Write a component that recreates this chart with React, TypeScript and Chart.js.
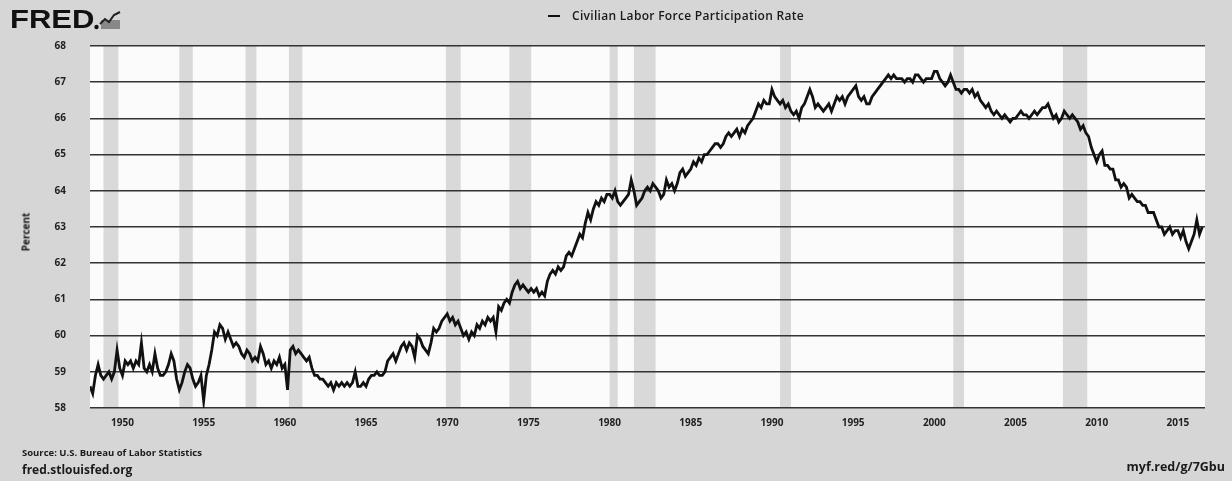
import React, { useEffect, useRef } from "react";
import { Chart, registerables } from "chart.js";

Chart.register(...registerables);

const SERIES_LABEL = "Civilian Labor Force Participation Rate";
const FIRST_YEAR = 1948;
const POINTS_PER_YEAR = 6;

// Civilian labor force participation rate (%), six readings per year, 1948 onward
const RATE: number[] = [
  58.6, 58.4, 58.9, 59.2, 58.9, 58.8, // 1948
  58.9, 59.0, 58.8, 59.0, 59.6, 59.1, // 1949
  58.9, 59.3, 59.2, 59.3, 59.1, 59.3, // 1950
  59.2, 59.8, 59.1, 59.0, 59.2, 59.0, // 1951
  59.5, 59.1, 58.9, 58.9, 59.0, 59.2, // 1952
  59.5, 59.3, 58.8, 58.5, 58.7, 59.0, // 1953
  59.2, 59.1, 58.8, 58.6, 58.7, 58.9, // 1954
  58.2, 58.9, 59.2, 59.6, 60.1, 60.0, // 1955
  60.3, 60.2, 59.9, 60.1, 59.9, 59.7, // 1956
  59.8, 59.7, 59.5, 59.4, 59.6, 59.5, // 1957
  59.3, 59.4, 59.3, 59.7, 59.5, 59.2, // 1958
  59.3, 59.1, 59.3, 59.2, 59.4, 59.1, // 1959
  59.2, 58.5, 59.6, 59.7, 59.5, 59.6, // 1960
  59.5, 59.4, 59.3, 59.4, 59.1, 58.9, // 1961
  58.9, 58.8, 58.8, 58.7, 58.6, 58.7, // 1962
  58.5, 58.7, 58.6, 58.7, 58.6, 58.7, // 1963
  58.6, 58.7, 59.0, 58.6, 58.6, 58.7, // 1964
  58.6, 58.8, 58.9, 58.9, 59.0, 58.9, // 1965
  58.9, 59.0, 59.3, 59.4, 59.5, 59.3, // 1966
  59.5, 59.7, 59.8, 59.6, 59.8, 59.7, // 1967
  59.4, 60.0, 59.9, 59.7, 59.6, 59.5, // 1968
  59.8, 60.2, 60.1, 60.2, 60.4, 60.5, // 1969
  60.6, 60.4, 60.5, 60.3, 60.4, 60.2, // 1970
  60.0, 60.1, 59.9, 60.1, 60.0, 60.3, // 1971
  60.2, 60.4, 60.3, 60.5, 60.4, 60.5, // 1972
  60.1, 60.8, 60.7, 60.9, 61.0, 60.9, // 1973
  61.2, 61.4, 61.5, 61.3, 61.4, 61.3, // 1974
  61.2, 61.3, 61.2, 61.3, 61.1, 61.2, // 1975
  61.1, 61.5, 61.7, 61.8, 61.7, 61.9, // 1976
  61.8, 61.9, 62.2, 62.3, 62.2, 62.4, // 1977
  62.6, 62.8, 62.7, 63.1, 63.4, 63.2, // 1978
  63.5, 63.7, 63.6, 63.8, 63.7, 63.9, // 1979
  63.9, 63.8, 64.0, 63.7, 63.6, 63.7, // 1980
  63.8, 63.9, 64.3, 64.0, 63.6, 63.7, // 1981
  63.8, 64.0, 64.1, 64.0, 64.2, 64.1, // 1982
  64.0, 63.8, 63.9, 64.3, 64.1, 64.2, // 1983
  64.0, 64.2, 64.5, 64.6, 64.4, 64.5, // 1984
  64.6, 64.8, 64.7, 64.9, 64.8, 65.0, // 1985
  65.0, 65.1, 65.2, 65.3, 65.3, 65.2, // 1986
  65.3, 65.5, 65.6, 65.5, 65.6, 65.7, // 1987
  65.5, 65.7, 65.6, 65.8, 65.9, 66.0, // 1988
  66.2, 66.4, 66.3, 66.5, 66.4, 66.4, // 1989
  66.8, 66.6, 66.5, 66.4, 66.5, 66.3, // 1990
  66.4, 66.2, 66.1, 66.2, 66.0, 66.3, // 1991
  66.4, 66.6, 66.8, 66.6, 66.3, 66.4, // 1992
  66.3, 66.2, 66.3, 66.4, 66.2, 66.4, // 1993
  66.6, 66.5, 66.6, 66.4, 66.6, 66.7, // 1994
  66.8, 66.9, 66.6, 66.5, 66.6, 66.4, // 1995
  66.4, 66.6, 66.7, 66.8, 66.9, 67.0, // 1996
  67.1, 67.2, 67.1, 67.2, 67.1, 67.1, // 1997
  67.1, 67.0, 67.1, 67.1, 67.0, 67.2, // 1998
  67.2, 67.1, 67.0, 67.1, 67.1, 67.1, // 1999
  67.3, 67.3, 67.1, 67.0, 66.9, 67.0, // 2000
  67.2, 67.0, 66.8, 66.8, 66.7, 66.8, // 2001
  66.8, 66.7, 66.8, 66.6, 66.7, 66.5, // 2002
  66.4, 66.3, 66.4, 66.2, 66.1, 66.2, // 2003
  66.1, 66.0, 66.1, 66.0, 65.9, 66.0, // 2004
  66.0, 66.1, 66.2, 66.1, 66.1, 66.0, // 2005
  66.1, 66.2, 66.1, 66.2, 66.3, 66.3, // 2006
  66.4, 66.2, 66.0, 66.1, 65.9, 66.0, // 2007
  66.2, 66.1, 66.0, 66.1, 66.0, 65.9, // 2008
  65.7, 65.8, 65.6, 65.5, 65.2, 65.0, // 2009
  64.8, 65.0, 65.1, 64.7, 64.7, 64.6, // 2010
  64.6, 64.3, 64.3, 64.1, 64.2, 64.1, // 2011
  63.8, 63.9, 63.8, 63.7, 63.7, 63.6, // 2012
  63.6, 63.4, 63.4, 63.4, 63.2, 63.0, // 2013
  63.0, 62.8, 62.9, 63.0, 62.8, 62.9, // 2014
  62.9, 62.7, 62.9, 62.6, 62.4, 62.6, // 2015
  62.8, 63.2, 62.8, 63.0,             // 2016
];

const Y_TICKS = [58, 59, 60, 61, 62, 63, 64, 65, 66, 67, 68];
const X_TICKS = [1950, 1955, 1960, 1965, 1970, 1975, 1980, 1985, 1990, 1995, 2000, 2005, 2010, 2015];
const X_MIN = 1948;
const X_MAX = 2016.67;

// NBER recession periods (decimal years)
const RECESSION_START = [1948.83, 1953.5, 1957.58, 1960.25, 1969.92, 1973.83, 1980.0, 1981.5, 1990.5, 2001.17, 2007.92];
const RECESSION_END = [1949.75, 1954.33, 1958.25, 1961.08, 1970.83, 1975.17, 1980.5, 1982.83, 1991.17, 2001.83, 2009.42];

const FONT = '"Open Sans", "DejaVu Sans", sans-serif';

const backdrop = {
  id: "backdrop",
  beforeDraw(chart: any) {
    const { ctx, chartArea: a, scales } = chart;
    const x = scales.x;
    ctx.save();
    ctx.fillStyle = "#fbfbfb";
    ctx.fillRect(a.left, a.top, a.right - a.left, a.bottom - a.top);
    ctx.fillStyle = "#d9d9d9";
    RECESSION_START.forEach((s, i) => {
      const x0 = x.getPixelForValue(s);
      const x1 = x.getPixelForValue(RECESSION_END[i]);
      ctx.fillRect(x0, a.top, x1 - x0, a.bottom - a.top);
    });
    ctx.restore();
  },
};

function LineChart() {
  const ref = useRef<HTMLCanvasElement | null>(null);
  useEffect(() => {
    if (!ref.current) return;
    const points = RATE.map((v, i) => ({ x: FIRST_YEAR + i / POINTS_PER_YEAR, y: v }));
    const chart = new Chart(ref.current, {
      type: "line",
      data: {
        datasets: [
          {
            label: SERIES_LABEL,
            data: points,
            borderColor: "#111",
            borderWidth: 2.8,
            pointRadius: 0,
            tension: 0,
            fill: false,
          },
        ],
      },
      options: {
        responsive: false,
        animation: false,
        layout: { padding: { top: 46, right: 27, left: 0, bottom: 0 } },
        plugins: { legend: { display: false }, tooltip: { enabled: false } },
        scales: {
          x: {
            type: "linear",
            min: X_MIN,
            max: X_MAX,
            afterBuildTicks: (s: any) => {
              s.ticks = X_TICKS.map((v) => ({ value: v }));
            },
            afterFit: (s: any) => {
              s.height = 73;
            },
            grid: { display: false, drawTicks: false },
            border: { display: false },
            ticks: {
              padding: 9,
              maxRotation: 0,
              autoSkip: false,
              color: "#222",
              font: { family: FONT, size: 10, weight: "bold" },
              callback: (v: any) => String(v),
            },
          },
          y: {
            min: 58,
            max: 68,
            afterBuildTicks: (s: any) => {
              s.ticks = Y_TICKS.map((v) => ({ value: v }));
            },
            afterFit: (s: any) => {
              s.width = 90;
            },
            grid: { color: "#333", lineWidth: 1.6, drawTicks: false },
            border: { display: false },
            ticks: {
              padding: 24,
              color: "#222",
              font: { family: FONT, size: 10, weight: "bold" },
              callback: (v: any) => String(v),
            },
          },
        },
      },
      plugins: [backdrop],
    });
    return () => chart.destroy();
  }, []);
  return <canvas ref={ref} width={1232} height={481} style={{ position: "absolute", left: 0, top: 0 }} />;
}

const txt = (extra: React.CSSProperties): React.CSSProperties => ({
  position: "absolute",
  fontFamily: FONT,
  color: "#1a1a1a",
  whiteSpace: "nowrap",
  ...extra,
});

export default function App() {
  return (
    <div
      style={{
        position: "fixed",
        left: 0,
        top: 0,
        width: 1232,
        height: 481,
        background: "#d6d6d6",
        overflow: "hidden",
      }}
    >
      <LineChart />
      <div
        style={txt({
          left: 10,
          top: 5,
          fontFamily: '"Liberation Sans", Arial, sans-serif',
          fontWeight: 900,
          fontSize: 25,
          lineHeight: "28px",
          color: "#111",
          transform: "scaleX(1.24)",
          transformOrigin: "left center",
        })}
      >
        FRED
      </div>
      <svg style={{ position: "absolute", left: 94, top: 10 }} width={28} height={20} viewBox="0 0 28 20">
        <circle cx={2.5} cy={17} r={2.2} fill="#111" />
        <rect x={7} y={10} width={19} height={9} fill="#888" />
        <polyline points="6,14 11,9 15,12 20,5 26,2" fill="none" stroke="#222" strokeWidth={2} />
      </svg>
      <div style={{ position: "absolute", left: 548, top: 15, width: 12, height: 2, background: "#111" }} />
      <div
        style={txt({ left: 572, top: 9, fontSize: 12, lineHeight: "14px", fontWeight: 600, letterSpacing: 0.3 })}
      >
        {SERIES_LABEL}
      </div>
      <div
        style={txt({
          left: 26,
          top: 232,
          fontSize: 10,
          lineHeight: "11px",
          fontWeight: 700,
          transform: "translate(-50%, -50%) rotate(-90deg)",
        })}
      >
        Percent
      </div>
      <div style={txt({ left: 22, top: 447, fontSize: 9.5, lineHeight: "12px", fontWeight: 700 })}>
        Source: U.S. Bureau of Labor Statistics
      </div>
      <div style={txt({ left: 22, top: 463, fontSize: 12, lineHeight: "14px", fontWeight: 700 })}>
        fred.stlouisfed.org
      </div>
      <div style={txt({ right: 7, top: 459, fontSize: 12.5, lineHeight: "15px", fontWeight: 700 })}>myf.red/g/7Gbu</div>
    </div>
  );
}
